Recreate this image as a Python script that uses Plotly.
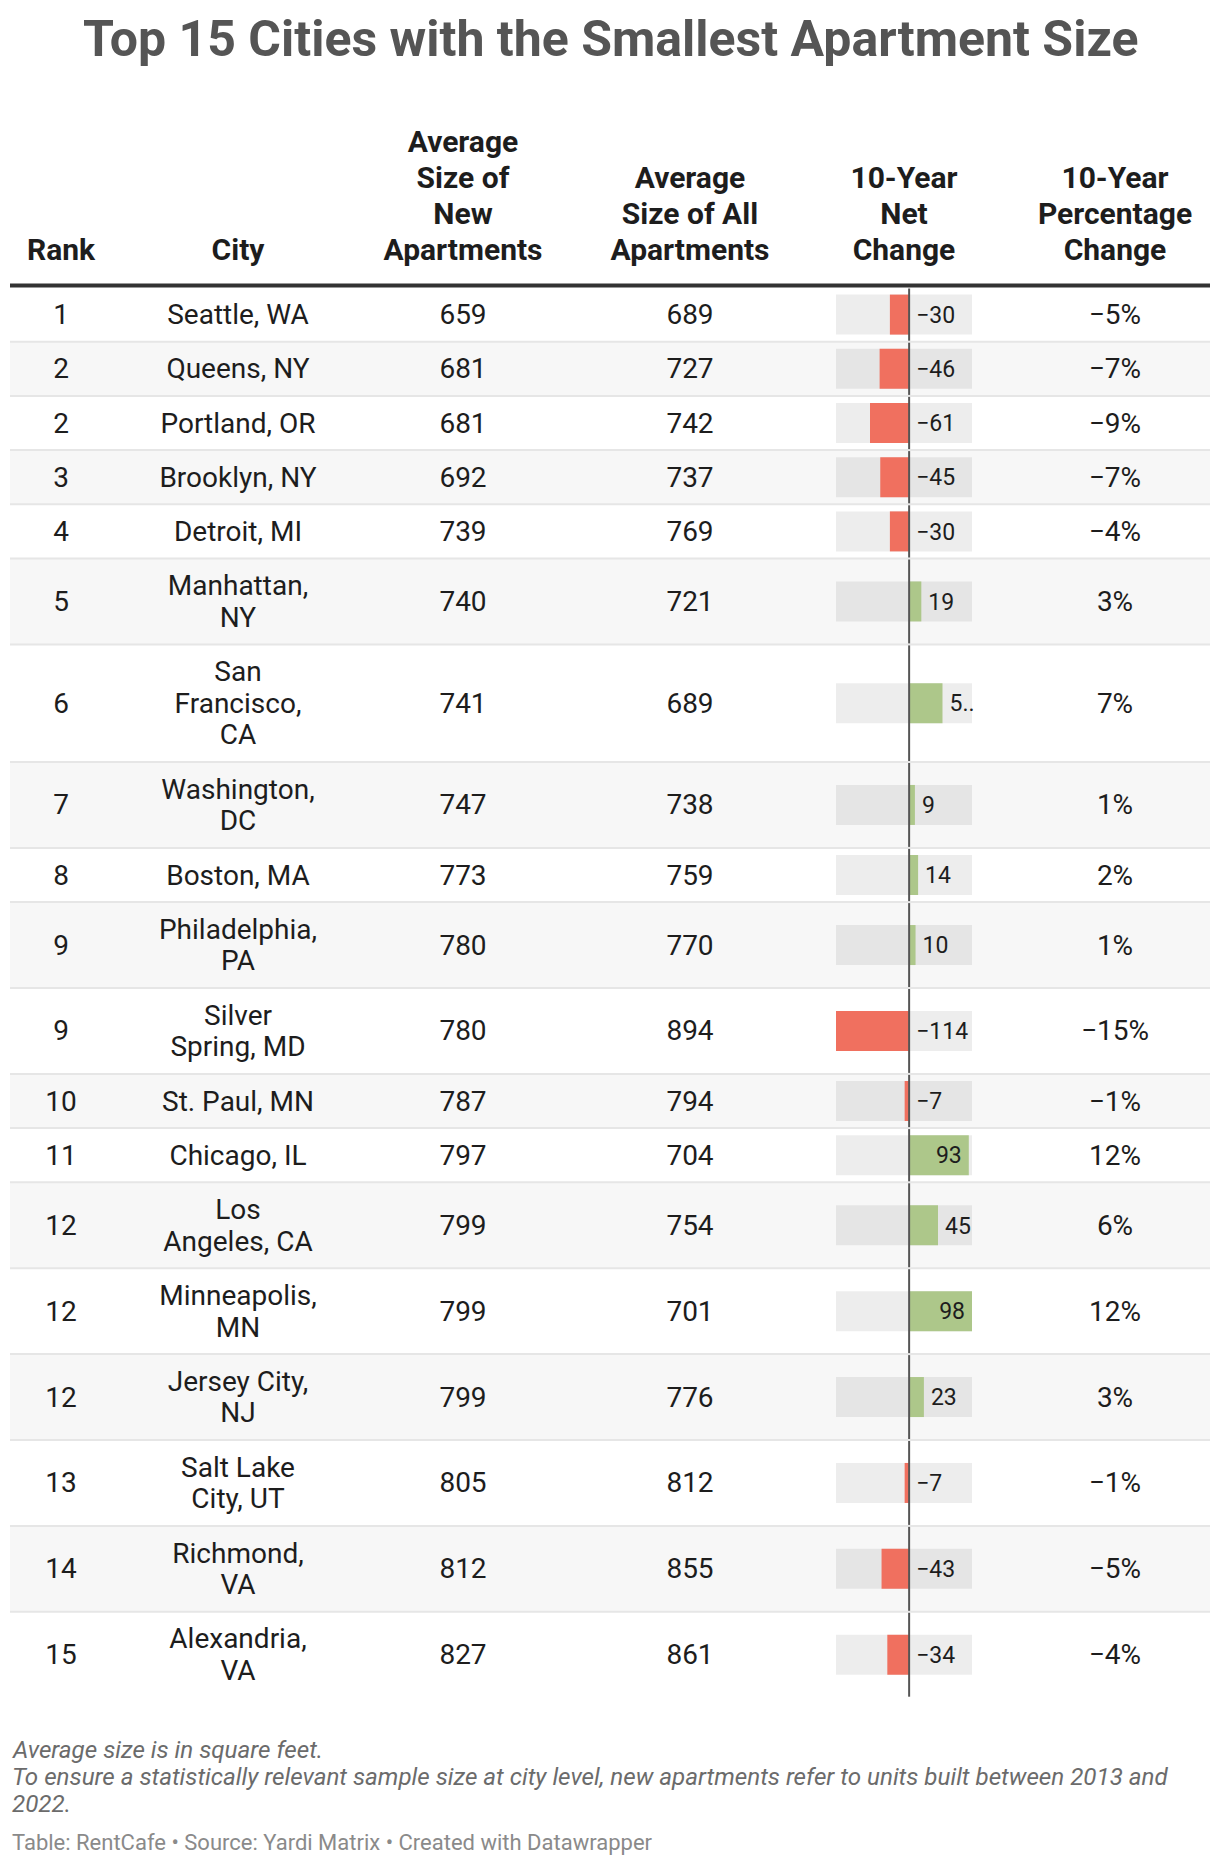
import plotly.graph_objects as go

# ---- data ----
title = "Top 15 Cities with the Smallest Apartment Size"
headers = ["Rank", "City", "Average<br>Size of<br>New<br>Apartments",
           "Average<br>Size of All<br>Apartments", "10-Year<br>Net<br>Change",
           "10-Year<br>Percentage<br>Change"]
ranks = [1, 2, 2, 3, 4, 5, 6, 7, 8, 9, 9, 10, 11, 12, 12, 12, 13, 14, 15]
cities = ["Seattle, WA", "Queens, NY", "Portland, OR", "Brooklyn, NY", "Detroit, MI",
          "Manhattan,<br>NY", "San<br>Francisco,<br>CA", "Washington,<br>DC", "Boston, MA",
          "Philadelphia,<br>PA", "Silver<br>Spring, MD", "St. Paul, MN", "Chicago, IL",
          "Los<br>Angeles, CA", "Minneapolis,<br>MN", "Jersey City,<br>NJ",
          "Salt Lake<br>City, UT", "Richmond,<br>VA", "Alexandria,<br>VA"]
size_new = [659, 681, 681, 692, 739, 740, 741, 747, 773, 780, 780, 787, 797, 799, 799, 799, 805, 812, 827]
size_all = [689, 727, 742, 737, 769, 721, 689, 738, 759, 770, 894, 794, 704, 754, 701, 776, 812, 855, 861]
net_change = [-30, -46, -61, -45, -30, 19, 52, 9, 14, 10, -114, -7, 93, 45, 98, 23, -7, -43, -34]
pct_change = [-5, -7, -9, -7, -4, 3, 7, 1, 2, 1, -15, -1, 12, 6, 12, 3, -1, -5, -4]
notes = ["Average size is in square feet.",
         "To ensure a statistically relevant sample size at city level, new apartments refer to "
         "units built between 2013 and",
         "2022."]
source = "Table: RentCafe \u2022 Source: Yardi Matrix \u2022 Created with Datawrapper"

# ---- layout constants (page pixels) ----
W, H = 1220, 1866
ORIGIN = 8          # the page body margin in front of the figure
LEFT, RIGHT = 10, 1210
COL_X = [61, 238, 463, 690, 904, 1115]
BAR_L, BAR_R = 836, 972
TABLE_TOP = 287.5
LINE_H = 31.7
ROW_PAD = 22.5
BAR_H = 40
HEAD_BOTTOM = 250
HEAD_LH = 36
TEXT_DY = 2.5       # optical nudge: plotly centres text a little high
FONT = "Roboto"
TEXT = "#1d1d1d"
BODY_SIZE = 28
HEAD_SIZE = 30
LABEL_SIZE = 23
PAD = 7


def minus(v):
    return str(v).replace("-", "\u2212")


n_lines = [c.count("<br>") + 1 for c in cities]
heights = [ROW_PAD + LINE_H * n for n in n_lines]
tops = []
y = TABLE_TOP
for h in heights:
    tops.append(y)
    y += h
centers = [t + h / 2 for t, h in zip(tops, heights)]


def cell_lines(col_x, labels):
    xs, ys, ts = [], [], []
    for lab, c in zip(labels, centers):
        parts = str(lab).split("<br>")
        for k, p in enumerate(parts):
            xs.append(col_x)
            ys.append(c + TEXT_DY + (k - (len(parts) - 1) / 2) * LINE_H)
            ts.append(p)
    return xs, ys, ts


fig = go.Figure()

# zebra stripes
odd = [i for i in range(len(cities)) if i % 2 == 1]
fig.add_trace(go.Bar(
    y=[centers[i] for i in odd], x=[RIGHT - LEFT] * len(odd), base=LEFT,
    width=[heights[i] for i in odd], orientation="h",
    marker=dict(color="#f7f7f7", line=dict(width=0)), xaxis="x", yaxis="y"))

# row separators
sx, sy = [], []
for t in tops[1:]:
    sx += [LEFT, RIGHT, None]
    sy += [t, t, None]
fig.add_trace(go.Scatter(x=sx, y=sy, mode="lines", line=dict(color="#e6e6e6", width=2)))

# header rule
fig.add_trace(go.Scatter(x=[LEFT, RIGHT], y=[TABLE_TOP - 2, TABLE_TOP - 2], mode="lines",
                         line=dict(color="#333333", width=4)))

# text columns
for col_x, labels in zip([COL_X[0], COL_X[1], COL_X[2], COL_X[3], COL_X[5]],
                         [ranks, cities, size_new, size_all, [minus(p) + "%" for p in pct_change]]):
    xs, ys, ts = cell_lines(col_x, labels)
    fig.add_trace(go.Scatter(x=xs, y=ys, text=ts, mode="text", textposition="middle center",
                             textfont=dict(family=FONT, size=BODY_SIZE, color=TEXT),
                             cliponaxis=False))

# headers
hx, hy, ht = [], [], []
for col_x, hd in zip(COL_X, headers):
    parts = hd.split("<br>")
    for k, p in enumerate(parts):
        hx.append(col_x)
        hy.append(HEAD_BOTTOM + TEXT_DY - (len(parts) - 1 - k) * HEAD_LH)
        ht.append(p)
fig.add_trace(go.Scatter(x=hx, y=hy, text=ht, mode="text", textposition="middle center",
                         textfont=dict(family=FONT, size=HEAD_SIZE, color=TEXT, weight=700),
                         cliponaxis=False))

# net change bars (own axis inside the column)
lo, hi = min(net_change), max(net_change)
n = len(net_change)
fig.add_trace(go.Bar(
    y=centers, x=[hi - lo] * n, base=[lo] * n, orientation="h", width=BAR_H,
    marker=dict(color="rgba(0,0,0,0.07)", line=dict(width=0)), xaxis="x2", yaxis="y"))
fig.add_trace(go.Bar(
    y=centers, x=net_change, orientation="h", width=BAR_H,
    marker=dict(color=["#f0705f" if v < 0 else "#adc78a" for v in net_change], line=dict(width=0)),
    xaxis="x2", yaxis="y"))

# zero line
zx, zy = [], []
for t, h in zip(tops, heights):
    zx += [0, 0, None]
    zy += [t + 1, t + h - 1, None]
fig.add_trace(go.Scatter(x=zx, y=zy, mode="lines", line=dict(color="#555555", width=2),
                         xaxis="x2", yaxis="y"))

# value labels
px_per = (BAR_R - BAR_L) / (hi - lo)


def label_w(s):
    return len(s) * 0.56 * LABEL_SIZE


ox, oy, ot, ix, iy, it = [], [], [], [], [], []
for v, c in zip(net_change, centers):
    s = minus(v)
    c = c + TEXT_DY
    if v < 0:
        ox.append(PAD / px_per); oy.append(c); ot.append(s)
    elif PAD + label_w(s) <= (hi - v) * px_per:
        ox.append(v + PAD / px_per); oy.append(c); ot.append(s)
    elif v * px_per >= label_w(s) + 2 * PAD:
        ix.append(v - PAD / px_per); iy.append(c); it.append(s)
    else:
        ox.append(v + PAD / px_per); oy.append(c); ot.append(s[0] + "..")
fig.add_trace(go.Scatter(x=ox, y=oy, text=ot, mode="text", textposition="middle right",
                         textfont=dict(family=FONT, size=LABEL_SIZE, color=TEXT),
                         xaxis="x2", yaxis="y", cliponaxis=False))
fig.add_trace(go.Scatter(x=ix, y=iy, text=it, mode="text", textposition="middle left",
                         textfont=dict(family=FONT, size=LABEL_SIZE, color=TEXT),
                         xaxis="x2", yaxis="y", cliponaxis=False))

# title and footer
fig.add_annotation(x=W / 2, y=39, xref="x", yref="y", text="<b>" + title + "</b>",
                   showarrow=False, xanchor="center", yanchor="middle",
                   font=dict(family=FONT, size=50, color="#555555"))
for k, line in enumerate(notes):
    fig.add_annotation(x=LEFT, y=1750 + 27 * k, xref="x", yref="y", text="<i>" + line + "</i>",
                       showarrow=False, xanchor="left", yanchor="middle", align="left",
                       font=dict(family=FONT, size=24.2, color="#6b6b6b"))
fig.add_annotation(x=LEFT, y=1842, xref="x", yref="y", text=source,
                   showarrow=False, xanchor="left", yanchor="middle", align="left",
                   font=dict(family=FONT, size=22, color="#8a8a8a"))

axis_off = dict(visible=False, showgrid=False, zeroline=False, fixedrange=True)
fw, fh = W - 2 * ORIGIN, H - 2 * ORIGIN
fig.update_layout(
    width=fw, height=fh, margin=dict(l=0, r=0, t=0, b=0),
    paper_bgcolor="white", plot_bgcolor="rgba(0,0,0,0)",
    showlegend=False, barmode="overlay", hovermode=False,
    xaxis=dict(range=[ORIGIN, ORIGIN + fw], domain=[0, 1], **axis_off),
    xaxis2=dict(range=[lo, hi], domain=[(BAR_L - ORIGIN) / fw, (BAR_R - ORIGIN) / fw],
                anchor="y", **axis_off),
    yaxis=dict(range=[ORIGIN + fh, ORIGIN], domain=[0, 1], **axis_off),
)

fig.write_html("out.html")
